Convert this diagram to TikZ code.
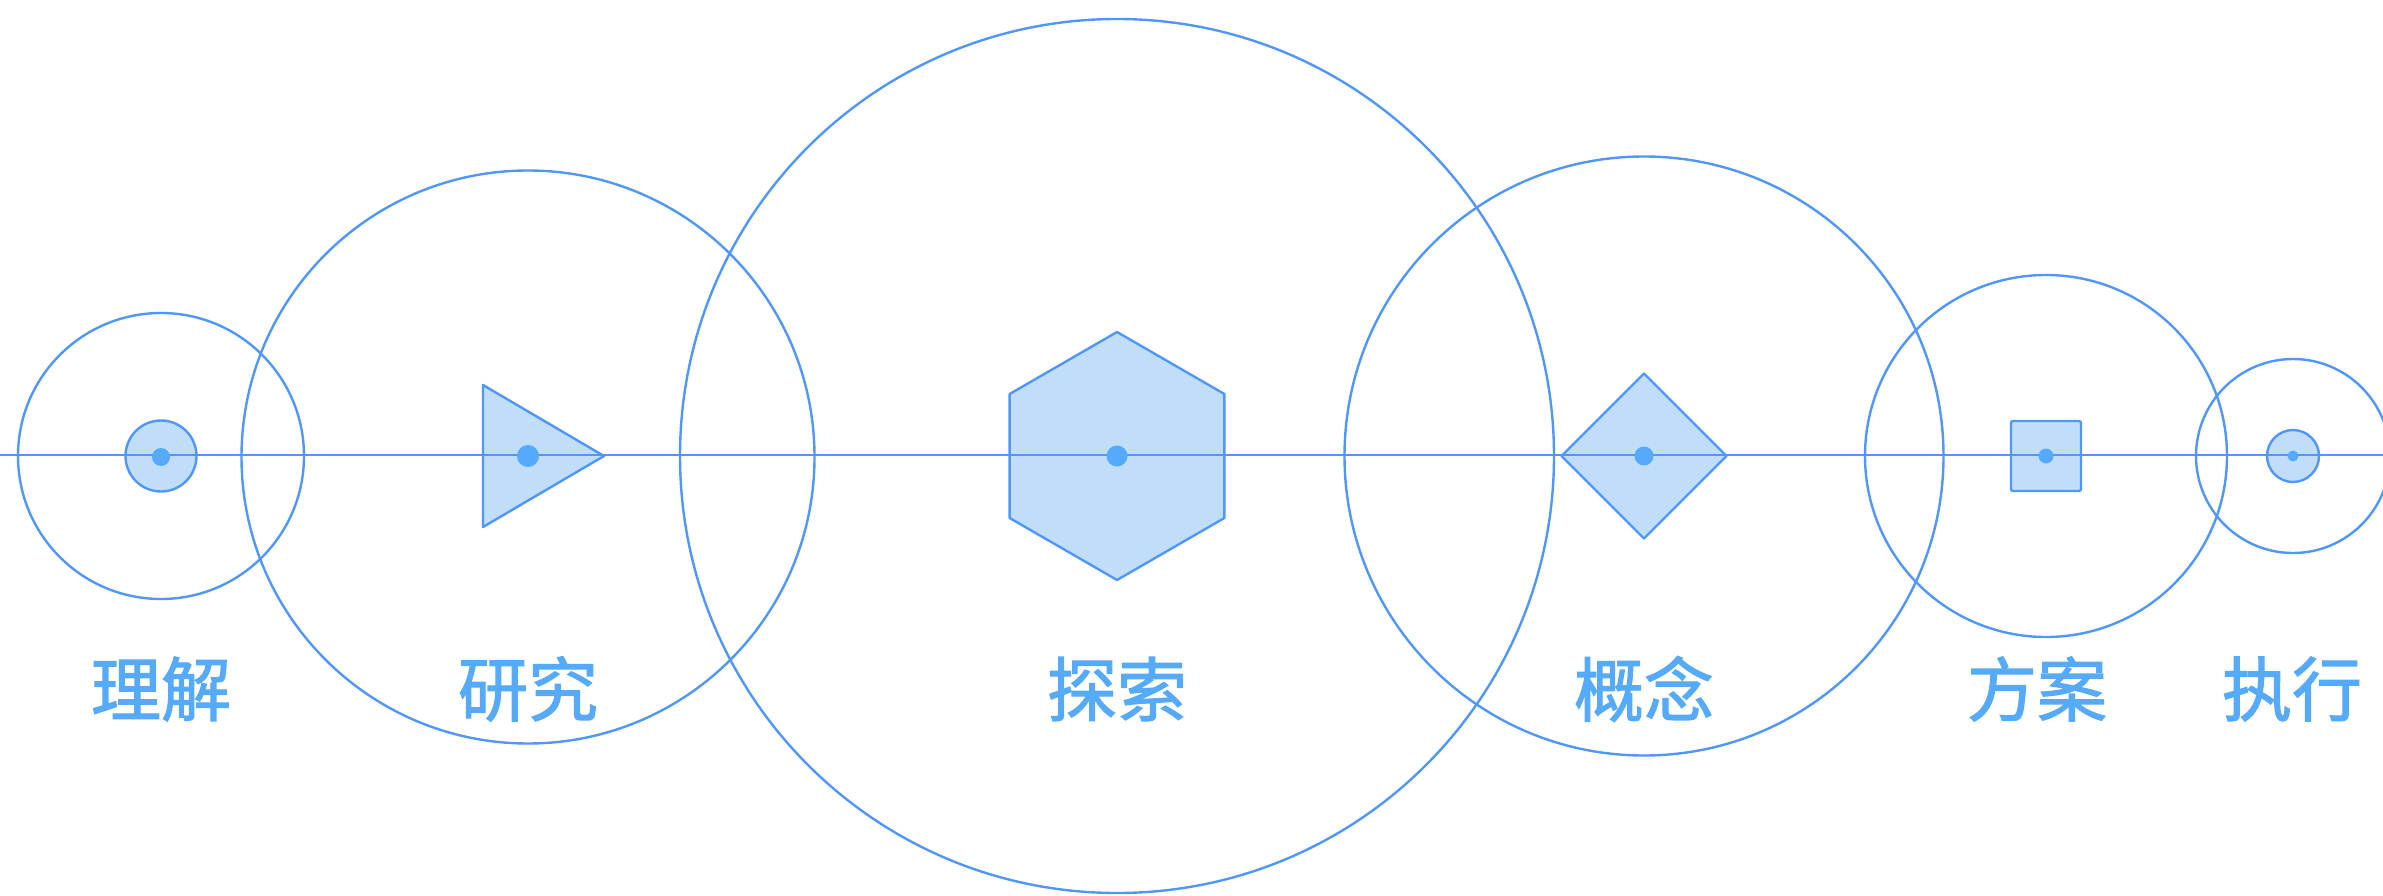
\documentclass[tikz,border=0pt]{standalone}
\usepackage{fontspec}
\newfontfamily\cjk[FakeBold=1.6]{Noto Sans CJK SC}
\usetikzlibrary{shapes.geometric}
\definecolor{ringblue}{RGB}{80,150,255}
\definecolor{fillblue}{RGB}{192,222,250}
\definecolor{dotblue}{RGB}{85,170,255}
\definecolor{textblue}{RGB}{85,170,250}
\tikzset{
  ring/.style={circle, draw=ringblue, line width=2.4pt, inner sep=0pt, minimum size=#1},
  shapefill/.style={draw=ringblue, fill=fillblue, line width=2.4pt, line join=round},
  centredot/.style={circle, fill=dotblue, inner sep=0pt, minimum size=#1},
  stagelabel/.style={text=textblue, font=\cjk\fontsize{70}{70}\selectfont, inner sep=0pt}
}
\begin{document}
\begin{tikzpicture}[x=1pt,y=-1pt]
\useasboundingbox (0,0) rectangle (2383,896);
\clip (0,0) rectangle (2383,896);
% outer rings
\node[ring=286pt] (r1) at (161,456) {};
\node[ring=573pt] (r2) at (528,457) {};
\node[ring=874pt] (r3) at (1117,456) {};
\node[ring=599pt] (r4) at (1644,456) {};
\node[ring=362pt] (r5) at (2046,456) {};
\node[ring=194pt] (r6) at (2293,456) {};
% inner shapes
\node[circle, shapefill, inner sep=0pt, minimum size=71pt] (s1) at (161,456) {};
\draw[shapefill] (483,385) -- (604,456) -- (483,527) -- cycle;
\node[regular polygon, regular polygon sides=6, shape border rotate=30, shapefill, inner sep=0pt, minimum size=248pt] (s3) at (1117,456) {};
\node[diamond, shapefill, inner sep=0pt, minimum width=166pt, minimum height=166pt] (s4) at (1644,456) {};
\node[rectangle, shapefill, rounded corners=2pt, inner sep=0pt, minimum size=70pt] (s5) at (2046,456) {};
\node[circle, shapefill, inner sep=0pt, minimum size=52pt] (s6) at (2293,456) {};
% axis line
\coordinate (L) at (0,455);
\coordinate (R) at (2383,455);
\draw[ringblue, line width=2.4pt] (L) -- (R);
% centre dots
\node[centredot=18pt] (d1) at (161,457) {};
\node[centredot=22pt] (d2) at (528,456) {};
\node[centredot=21pt] (d3) at (1117,456) {};
\node[centredot=19pt] (d4) at (1644,456) {};
\node[centredot=15pt] (d5) at (2046,456) {};
\node[centredot=11pt] (d6) at (2293,456) {};
% labels
\node[stagelabel] (t1) at (161,689) {理解};
\node[stagelabel] (t2) at (528,689) {研究};
\node[stagelabel] (t3) at (1117,689) {探索};
\node[stagelabel] (t4) at (1644,689) {概念};
\node[stagelabel] (t5) at (2037,689) {方案};
\node[stagelabel] (t6) at (2292,689) {执行};
\end{tikzpicture}
\end{document}
